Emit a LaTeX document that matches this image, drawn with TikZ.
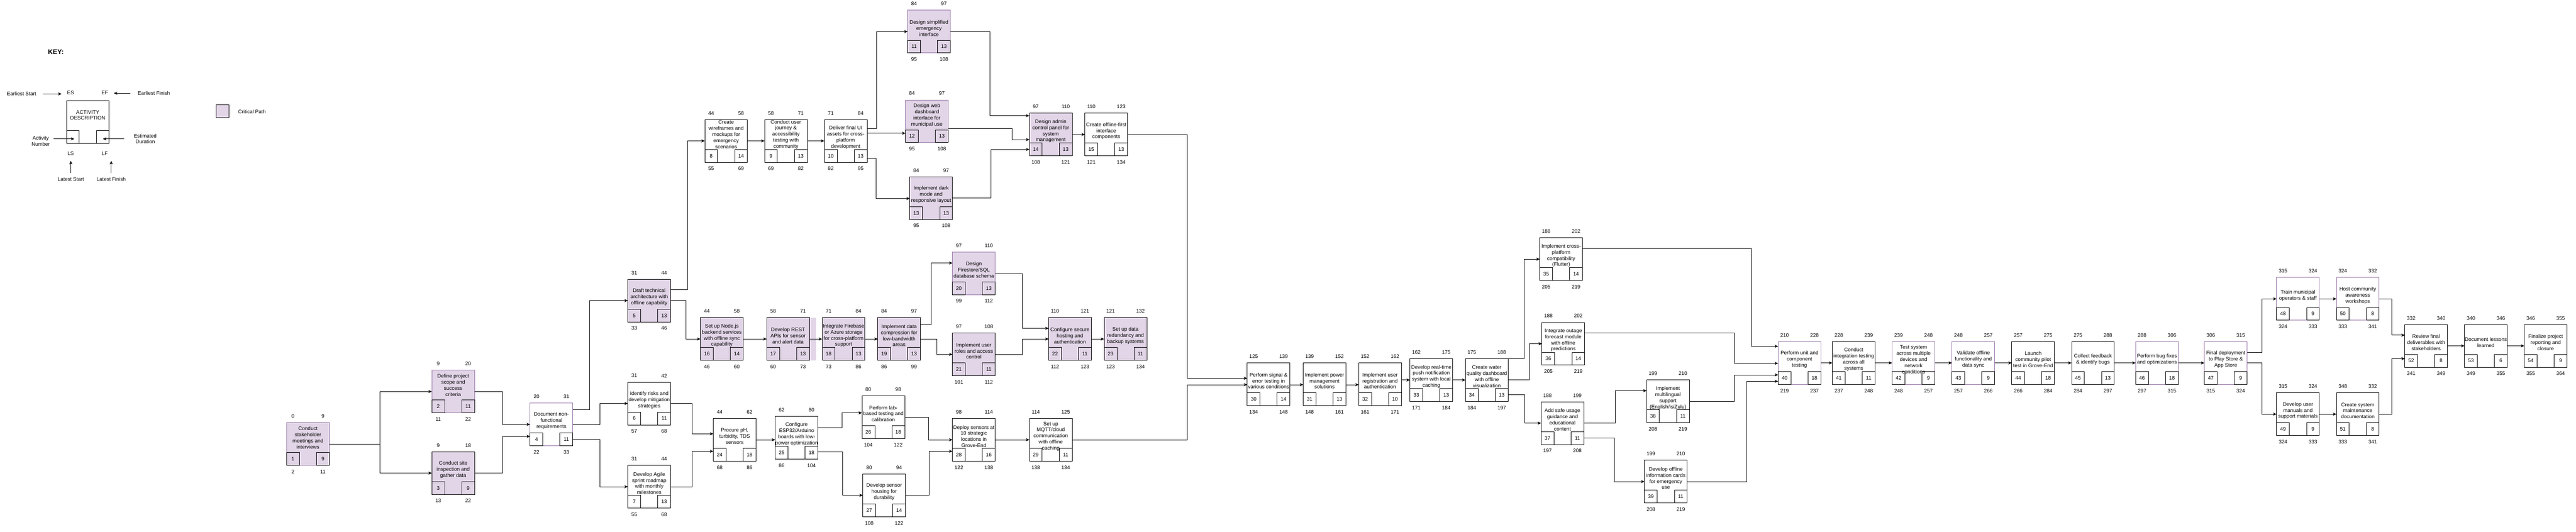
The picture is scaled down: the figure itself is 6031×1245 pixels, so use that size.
\documentclass[tikz,border=0pt]{standalone}
\usepackage{fontspec}
\setmainfont{Liberation Sans}
\usetikzlibrary{calc,arrows.meta}
\definecolor{critfill}{HTML}{E1D5E7}
\definecolor{critborder}{HTML}{9673A6}
\newcommand\actfont{\fontsize{12}{14.3}\selectfont}
\tikzset{
  actbox/.style={draw=black, line width=1pt, minimum width=100pt, minimum height=100pt, inner sep=0pt, outer sep=0pt, fill=white},
  crit/.style={fill=critfill},
  pb/.style={draw=critborder},
  subbox/.style={draw=black, line width=1pt, minimum width=30pt, minimum height=30pt, inner sep=0pt, outer sep=0pt, font=\actfont},
  acttext/.style={align=center, inner sep=0pt, font=\actfont},
  numlbl/.style={inner sep=0pt, font=\actfont},
  keytxt/.style={inner sep=0pt, align=center, font=\actfont},
  arr/.style={line width=1pt, -{Stealth[length=8pt,width=7pt,inset=2pt]}},
}
% box: name, left, top, style, text offset, text
\newcommand\actnode[6]{%
  \node[actbox,#4] (#1) at ({#2+50},{#3+50}) {};
  \node[acttext] (#1t) at ($(#1.north)+(0,#5)$) {#6};
}
% numbers: name, activity, duration, ES, EF, LS, LF
\newcommand\actnums[7]{%
  \node[subbox] (#1n) at ($(#1.south west)+(15,-15)$) {#2};
  \node[subbox] (#1d) at ($(#1.south east)+(-15,-15)$) {#3};
  \node[numlbl] (#1es) at ($(#1.north west)+(15,-15)$) {#4};
  \node[numlbl] (#1ef) at ($(#1.north east)+(-15,-15)$) {#5};
  \node[numlbl] (#1ls) at ($(#1.south west)+(15,15)$) {#6};
  \node[numlbl] (#1lf) at ($(#1.south east)+(-15,15)$) {#7};
}
% elbow connector: source, exit offset, x of vertical, target, entry offset
\newcommand\elbow[5]{%
  \coordinate (ca) at ($(#1.north east)+(0,#2)$);
  \coordinate (cb) at ($(#4.north west)+(0,#5)$);
  \coordinate (cm) at (#3,0);
  \draw[arr] (ca) -- (ca -| cm) -- (cm |- cb) -- (cb);
}
\newcommand\straight[3]{%
  \coordinate (ca) at ($(#1.north east)+(0,#2)$);
  \draw[arr] (ca) -- (ca -| #3.west);
}
\begin{document}
\begin{tikzpicture}[x=1pt,y=-1pt]
\useasboundingbox (0,0) rectangle (6031,1245);

% ---------------- KEY ----------------
\node[anchor=west, inner sep=0pt, font=\bfseries\fontsize{16}{18}\selectfont] (keyt) at (112,122) {KEY:};
\node[actbox] (key) at (205.5,285.7) {};
\node[subbox] (keyn) at ($(key.south west)+(15,-15)$) {};
\node[subbox] (keyd) at ($(key.south east)+(-15,-15)$) {};
\node[acttext] (keytx) at ($(key.north)+(0,34)$) {ACTIVITY\\DESCRIPTION};
\node[numlbl] (kES) at (165.4,217.7) {ES};
\node[numlbl] (kEF) at (245.4,217.7) {EF};
\node[numlbl] (kLS) at (165.4,360) {LS};
\node[numlbl] (kLF) at (245.4,360) {LF};
\node[keytxt] (kESt) at (50.6,219.3) {Earliest Start};
\node[keytxt] (kEFt) at (360.3,217.7) {Earliest Finish};
\node[keytxt] (kANt) at (95.4,330) {Activity\\Number};
\node[keytxt] (kEDt) at (340,325) {Estimated\\Duration};
\node[keytxt] (kLSt) at (165.8,419.3) {Latest Start};
\node[keytxt] (kLFt) at (260.4,419.3) {Latest Finish};
\coordinate (k1a) at (100.7,220);   \coordinate (k1b) at (144.3,220);
\coordinate (k2a) at (305,218.3);   \coordinate (k2b) at (266.6,218.3);
\coordinate (k3a) at (125.6,325.3); \coordinate (k3b) at (174,325.3);
\coordinate (k4a) at (290.2,325.3); \coordinate (k4b) at (240.9,325.3);
\coordinate (k5a) at (165.8,405.7); \coordinate (k5b) at (165.8,376.7);
\coordinate (k6a) at (260.4,405.7); \coordinate (k6b) at (260.4,376.7);
\draw[arr] (k1a) -- (k1b);
\draw[arr] (k2a) -- (k2b);
\draw[arr] (k3a) -- (k3b);
\draw[arr] (k4a) -- (k4b);
\draw[arr] (k5a) -- (k5b);
\draw[arr] (k6a) -- (k6b);
\node[draw=black, line width=1pt, fill=critfill, minimum size=30pt, inner sep=0pt] (cpbox) at (520.5,260.5) {};
\node[keytxt] (cptxt) at (590,261.7) {Critical Path};

% ---------------- ACTIVITIES ----------------
\actnode{n1}{671}{990}{crit,pb}{35}{Conduct\\stakeholder\\meetings and\\interviews}
\actnums{n1}{1}{9}{0}{9}{2}{11}
\actnode{n2}{1011}{867}{crit,pb}{35}{Define project\\scope and\\success\\criteria}
\actnums{n2}{2}{11}{9}{20}{11}{22}
\actnode{n3}{1011}{1058}{crit}{42}{Conduct site\\inspection and\\gather data}
\actnums{n3}{3}{9}{9}{18}{13}{22}
\actnode{n4}{1241}{944}{pb}{42}{Document non-\\functional\\requirements}
\actnums{n4}{4}{11}{20}{31}{22}{33}
\actnode{n5}{1470}{654}{crit}{42}{Draft technical\\architecture with\\offline capability}
\actnums{n5}{5}{13}{31}{44}{33}{46}
\actnode{n6}{1470}{895}{}{42}{Identify risks and\\develop mitigation\\strategies}
\actnums{n6}{6}{11}{31}{42}{57}{68}
\actnode{n7}{1470}{1090}{}{42}{Develop Agile\\sprint roadmap\\with monthly\\milestones}
\actnums{n7}{7}{13}{31}{44}{55}{68}
\actnode{n8}{1650}{280}{}{35}{Create\\wireframes and\\mockups for\\emergency\\scenarios}
\actnums{n8}{8}{14}{44}{58}{55}{69}
\actnode{n9}{1790}{280}{}{35}{Conduct user\\journey \&\\accessibility\\testing with\\community}
\actnums{n9}{9}{13}{58}{71}{69}{82}
\actnode{n10}{1930}{280}{}{42}{Deliver final UI\\assets for cross-\\platform\\development}
\actnums{n10}{10}{13}{71}{84}{82}{95}
\actnode{n11}{2125}{24}{crit,pb}{42}{Design simplified\\emergency\\interface}
\actnums{n11}{11}{13}{84}{97}{95}{108}
\actnode{n12}{2120}{234}{crit,pb}{36}{Design web\\dashboard\\interface for\\municipal use}
\actnums{n12}{12}{13}{84}{97}{95}{108}
\actnode{n13}{2130}{414}{crit}{42}{Implement dark\\mode and\\responsive layout}
\actnums{n13}{13}{13}{84}{97}{95}{108}
\actnode{n14}{2410}{265}{crit}{42}{Design admin\\control panel for\\system\\management}
\actnums{n14}{14}{13}{97}{110}{108}{121}
\actnode{n15}{2540}{265}{}{42}{Create offline-first\\interface\\components}
\actnums{n15}{15}{13}{110}{123}{121}{134}
\actnode{n16}{1640}{744}{crit}{42}{Set up Node.js\\backend services\\with offline sync\\capability}
\actnums{n16}{16}{14}{44}{58}{46}{60}
\fill[critfill] (1896,744.5) rectangle (1910.5,844.5);
\actnode{n17}{1795}{744}{crit}{42}{Develop REST\\APIs for sensor\\and alert data}
\actnums{n17}{17}{13}{58}{71}{60}{73}
\actnode{n18}{1925}{744}{crit}{42}{Integrate Firebase\\or Azure storage\\for cross-platform\\support}
\actnums{n18}{18}{13}{71}{84}{73}{86}
\actnode{n19}{2055}{744}{crit}{42}{Implement data\\compression for\\low-bandwidth\\areas}
\actnums{n19}{19}{13}{84}{97}{86}{99}
\actnode{n20}{2230}{590}{crit,pb}{42}{Design\\Firestore/SQL\\database schema}
\actnums{n20}{20}{13}{97}{110}{99}{112}
\actnode{n21}{2230}{780}{crit}{42}{Implement user\\roles and access\\control}
\actnums{n21}{21}{11}{97}{108}{101}{112}
\actnode{n22}{2455}{744}{crit}{42}{Configure secure\\hosting and\\authentication}
\actnums{n22}{22}{11}{110}{121}{112}{123}
\actnode{n23}{2585}{744}{crit}{42}{Set up data\\redundancy and\\backup systems}
\actnums{n23}{23}{11}{121}{132}{123}{134}
\actnode{n24}{1670}{980}{}{42}{Procure pH,\\turbidity, TDS\\sensors}
\actnums{n24}{24}{18}{44}{62}{68}{86}
\actnode{n25}{1815}{975}{}{42}{Configure\\ESP32/Arduino\\boards with low-\\power optimization}
\actnums{n25}{25}{18}{62}{80}{86}{104}
\actnode{n26}{2018}{927}{}{42}{Perform lab-\\based testing and\\calibration}
\actnums{n26}{26}{18}{80}{98}{104}{122}
\actnode{n27}{2020}{1110}{}{42}{Develop sensor\\housing for\\durability}
\actnums{n27}{27}{14}{80}{94}{108}{122}
\actnode{n28}{2230}{980}{}{42}{Deploy sensors at\\10 strategic\\locations in\\Grove-End}
\actnums{n28}{28}{16}{98}{114}{122}{138}
\actnode{n29}{2410}{980}{}{42}{Set up\\MQTT/cloud\\communication\\with offline\\caching}
\actnums{n29}{29}{11}{114}{125}{138}{134}
\actnode{n30}{2920}{850}{}{42}{Perform signal \&\\error testing in\\various conditions}
\actnums{n30}{30}{14}{125}{139}{134}{148}
\actnode{n31}{3051}{850}{}{42}{Implement power\\management\\solutions}
\actnums{n31}{31}{13}{139}{152}{148}{161}
\actnode{n32}{3181}{850}{}{42}{Implement user\\registration and\\authentication}
\actnums{n32}{32}{10}{152}{162}{161}{171}
\actnode{n33}{3301}{840}{}{42}{Develop real-time\\push notification\\system with local\\caching}
\actnums{n33}{33}{13}{162}{175}{171}{184}
\actnode{n34}{3431}{840}{}{42}{Create water\\quality dashboard\\with offline\\visualization}
\actnums{n34}{34}{13}{175}{188}{184}{197}
\actnode{n35}{3605}{557}{}{42}{Implement cross-\\platform\\compatibility\\(Flutter)}
\actnums{n35}{35}{14}{188}{202}{205}{219}
\actnode{n36}{3610}{755}{}{42}{Integrate outage\\forecast module\\with offline\\predictions}
\actnums{n36}{36}{14}{188}{202}{205}{219}
\actnode{n37}{3608}{941}{}{42}{Add safe usage\\guidance and\\educational\\content}
\actnums{n37}{37}{11}{188}{199}{197}{208}
\actnode{n38}{3855}{890}{}{42}{Implement\\multilingual\\support\\(English/isiZulu)}
\actnums{n38}{38}{11}{199}{210}{208}{219}
\actnode{n39}{3850}{1078}{}{42}{Develop offline\\information cards\\for emergency\\use}
\actnums{n39}{39}{11}{199}{210}{208}{219}
\actnode{n40}{4163}{800}{pb}{42}{Perform unit and\\component\\testing}
\actnums{n40}{40}{18}{210}{228}{219}{237}
\actnode{n41}{4290}{800}{}{42}{Conduct\\integration testing\\across all\\systems}
\actnums{n41}{41}{11}{228}{239}{237}{248}
\actnode{n42}{4430}{800}{pb}{42}{Test system\\across multiple\\devices and\\network\\conditions}
\actnums{n42}{42}{9}{239}{248}{248}{257}
\actnode{n43}{4570}{800}{pb}{42}{Validate offline\\functionality and\\data sync}
\actnums{n43}{43}{9}{248}{257}{257}{266}
\actnode{n44}{4710}{800}{}{42}{Launch\\community pilot\\test in Grove-End}
\actnums{n44}{44}{18}{257}{275}{266}{284}
\actnode{n45}{4850}{800}{}{42}{Collect feedback\\\& identify bugs}
\actnums{n45}{45}{13}{275}{288}{284}{297}
\actnode{n46}{5000}{800}{pb}{42}{Perform bug fixes\\and optimizations}
\actnums{n46}{46}{18}{288}{306}{297}{315}
\actnode{n47}{5161}{800}{pb}{42}{Final deployment\\to Play Store \&\\App Store}
\actnums{n47}{47}{9}{306}{315}{315}{324}
\actnode{n48}{5330}{650}{pb}{42}{Train municipal\\operators \& staff}
\actnums{n48}{48}{9}{315}{324}{324}{333}
\actnode{n49}{5330}{920}{}{42}{Develop user\\manuals and\\support materials}
\actnums{n49}{49}{9}{315}{324}{324}{333}
\actnode{n50}{5470}{650}{pb}{42}{Host community\\awareness\\workshops}
\actnums{n50}{50}{8}{324}{332}{333}{341}
\actnode{n51}{5470}{920}{}{42}{Create system\\maintenance\\documentation}
\actnums{n51}{51}{8}{348}{332}{333}{341}
\actnode{n52}{5630}{760}{}{42}{Review final\\deliverables with\\stakeholders}
\actnums{n52}{52}{8}{332}{340}{341}{349}
\actnode{n53}{5770}{760}{}{42}{Document lessons\\learned}
\actnums{n53}{53}{6}{340}{346}{349}{355}
\actnode{n54}{5910}{760}{}{42}{Finalize project\\reporting and\\closure}
\actnums{n54}{54}{9}{346}{355}{355}{364}

% ---------------- CONNECTORS ----------------
\elbow{n1}{50}{890}{n2}{50}
\elbow{n1}{50}{890}{n3}{50}
\elbow{n2}{50}{1176}{n4}{50}
\elbow{n3}{50}{1176}{n4}{78}
\elbow{n4}{16}{1380}{n5}{50}
\elbow{n4}{50}{1405}{n6}{50}
\elbow{n4}{85}{1405}{n7}{50}
\elbow{n5}{24}{1610}{n8}{50}
\elbow{n5}{50}{1606}{n16}{50}
\elbow{n6}{50}{1620}{n24}{36}
\elbow{n7}{50}{1620}{n24}{77}
\straight{n8}{50}{n9}
\straight{n9}{50}{n10}
\elbow{n10}{21}{2052}{n11}{50}
\straight{n10}{32}{n12}
\elbow{n10}{91}{2051}{n13}{51}
\elbow{n11}{50}{2318}{n14}{6}
\elbow{n12}{67}{2370}{n14}{62}
\elbow{n13}{50}{2320}{n14}{85}
\straight{n14}{50}{n15}
\elbow{n15}{50}{2780}{n30}{36}
\straight{n16}{50}{n17}
\straight{n17}{50}{n18}
\straight{n18}{50}{n19}
\elbow{n19}{16}{2180}{n20}{26}
\elbow{n19}{50}{2193}{n21}{50}
\elbow{n20}{51}{2393}{n22}{25}
\elbow{n21}{50}{2393}{n22}{50}
\straight{n22}{50}{n23}
\straight{n24}{50}{n25}
\elbow{n25}{27}{1972}{n26}{40}
\elbow{n25}{83}{1973}{n27}{50}
\elbow{n26}{50}{2174}{n28}{50}
\elbow{n27}{50}{2175}{n28}{77}
\straight{n28}{50}{n29}
\elbow{n29}{50}{2780}{n30}{51}
\straight{n30}{51}{n31}
\straight{n31}{51}{n32}
\straight{n32}{40}{n33}
\straight{n33}{50}{n34}
\elbow{n34}{0}{3568}{n35}{50}
\elbow{n34}{50}{3581}{n36}{50}
\elbow{n34}{85}{3569}{n37}{50}
\elbow{n37}{50}{3782}{n38}{25}
\elbow{n37}{85}{3779}{n39}{50}
\elbow{n35}{25}{4100}{n40}{11}
\elbow{n36}{25}{4061}{n40}{51}
\elbow{n38}{50}{4060}{n40}{78}
\elbow{n39}{50}{4090}{n40}{93}
\straight{n40}{50}{n41}
\straight{n41}{50}{n42}
\straight{n42}{50}{n43}
\straight{n43}{50}{n44}
\straight{n44}{50}{n45}
\straight{n45}{50}{n46}
\straight{n46}{50}{n47}
\elbow{n47}{25}{5296}{n48}{50}
\elbow{n47}{50}{5296}{n49}{50}
\straight{n48}{50}{n50}
\straight{n49}{50}{n51}
\elbow{n50}{50}{5600}{n52}{25}
\elbow{n51}{50}{5600}{n52}{80}
\straight{n52}{50}{n53}
\straight{n53}{50}{n54}
\end{tikzpicture}
\end{document}
